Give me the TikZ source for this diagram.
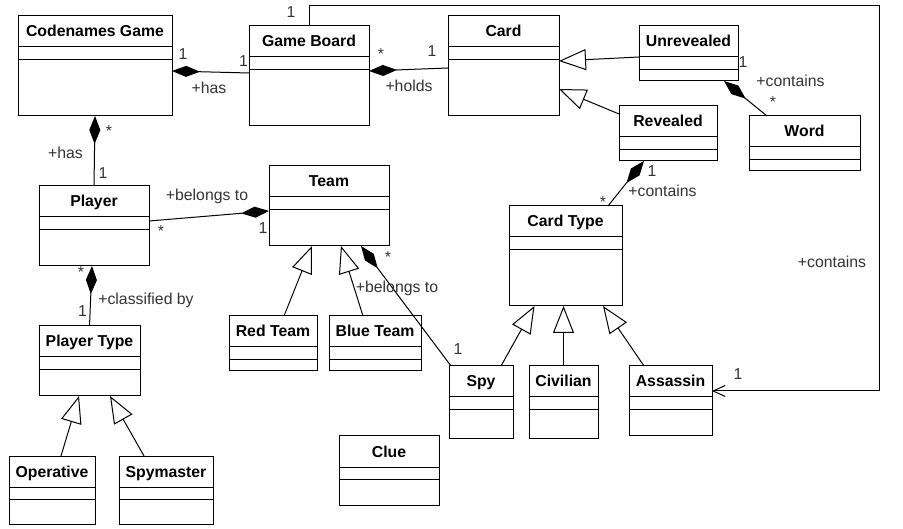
\documentclass[tikz,border=0pt]{standalone}
\usepackage{fontspec}
\setmainfont{Liberation Sans}
\usetikzlibrary{arrows.meta}

\begin{document}
\begin{tikzpicture}[x=1pt, y=-1pt, line width=1pt,
  clsname/.style={anchor=base, inner sep=0pt, yshift=-21pt, font=\fontsize{15.8}{19}\selectfont\bfseries},
  cls/.style={draw, rectangle, inner sep=0pt, outer sep=0pt, anchor=north west, label={[clsname]north:{#1}},
    path picture={\draw[line width=1pt] ([yshift=-31pt]path picture bounding box.north west) -- ([yshift=-31pt]path picture bounding box.north east)
      ([yshift=-43.5pt]path picture bounding box.north west) -- ([yshift=-43.5pt]path picture bounding box.north east);}},
  mult/.style={anchor=base, inner sep=0pt, text=black!80, font=\fontsize{15.8}{19}\selectfont},
  comp/.style={{Diamond[length=28pt,width=11pt]}-, every node/.style={mult}},
  gen/.style={-{Triangle[open,length=27pt,width=21pt]}},
  assoc/.style={-{Straight Barb[length=12pt,width=11pt]}, every node/.style={mult}}]

\useasboundingbox (0,0) rectangle (903,529);

\node[cls={Codenames Game}, minimum width=154pt, minimum height=100pt] (game) at (18,16) {};
\node[cls={Game Board}, minimum width=120pt, minimum height=100pt] (board) at (249,26) {};
\node[cls={Card}, minimum width=111pt, minimum height=100pt] (card) at (448,16) {};
\node[cls={Unrevealed}, minimum width=99pt, minimum height=55pt] (unrev) at (639,26) {};
\node[cls={Revealed}, minimum width=98pt, minimum height=55pt] (rev) at (619,106) {};
\node[cls={Word}, minimum width=111pt, minimum height=55pt] (word) at (749,116) {};
\node[cls={Card Type}, minimum width=113pt, minimum height=100pt] (ctype) at (509,206) {};
\node[cls={Player}, minimum width=110pt, minimum height=80pt] (player) at (39,186) {};
\node[cls={Team}, minimum width=120pt, minimum height=80pt] (team) at (269,166) {};
\node[cls={Player Type}, minimum width=101pt, minimum height=70pt] (ptype) at (39,326) {};
\node[cls={Operative}, minimum width=86pt, minimum height=68pt] (oper) at (9,456) {};
\node[cls={Spymaster}, minimum width=94pt, minimum height=68pt] (spym) at (119,456) {};
\node[cls={Red Team}, minimum width=88pt, minimum height=55pt] (red) at (229,316) {};
\node[cls={Blue Team}, minimum width=92pt, minimum height=55pt] (blue) at (329,316) {};
\node[cls={Clue}, minimum width=100pt, minimum height=69pt] (clue) at (339,436) {};
\node[cls={Spy}, minimum width=64pt, minimum height=73pt] (spy) at (449,366) {};
\node[cls={Civilian}, minimum width=69pt, minimum height=73pt] (civ) at (529,366) {};
\node[cls={Assassin}, minimum width=83pt, minimum height=70pt] (assn) at (629,366) {};

% compositions
\draw[comp] ([yshift=-5pt]game.east) -- ([yshift=3pt]board.west) node at (183,60) {1} node at (243.5,67) {1} node at (209,94) {+has};
\draw[comp] ([yshift=5pt]board.east) -- ([yshift=-2pt]card.west) node at (381,60) {*} node at (432,57) {1} node at (409,92) {+holds};
\draw[comp] (game.south) -- (player.north) node at (109,137) {*} node at (65.5,159) {+has} node at (103,179) {1};
\draw[comp] ([yshift=-5pt]team.west) -- ([yshift=5pt]player.east) node at (207,201) {+belongs to} node at (161,237) {*} node at (263,234) {1};
\draw[comp] ([xshift=-2pt]player.south) -- (ptype.north) node at (81,278) {*} node at (146,305) {+classified by} node at (82.5,317) {1};
\draw[comp] ([xshift=32pt]team.south) -- ([xshift=2pt]spy.north west) node at (388,263) {*} node at (397,293) {+belongs to} node at (458,355) {1};
\draw[comp] ([xshift=-14pt]unrev.south east) -- ([xshift=18pt]word.north west) node at (743,68) {1} node at (790.5,87) {+contains} node at (773,108) {*};
\draw[comp] ([xshift=-24pt]rev.south) -- ([xshift=42.5pt]ctype.north) node at (652,177) {1} node at (662.5,197) {+contains} node at (603,208) {*};

% generalisations
\draw[gen] ([xshift=11pt]red.north) -- ([xshift=-17pt]team.south);
\draw[gen] ([xshift=-12pt]blue.north) -- ([xshift=12pt]team.south);
\draw[gen] ([yshift=-3.5pt]unrev.west) -- ([yshift=5pt]card.east);
\draw[gen] ([yshift=-8pt]rev.north west) -- ([yshift=-23pt]card.east);
\draw[gen] ([xshift=20pt]spy.north) -- ([xshift=-31pt]ctype.south);
\draw[gen] (civ.north) -- (civ.north |- ctype.south);
\draw[gen] ([xshift=-26.5pt]assn.north) -- ([xshift=37.5pt]ctype.south);
\draw[gen] ([xshift=9pt]oper.north) -- ([xshift=-10.5pt]ptype.south);
\draw[gen] ([xshift=-22pt]spym.north) -- ([xshift=20.5pt]ptype.south);

% association
\coordinate (corner) at (879,6);
\draw[assoc] (board.north) |- (corner) |- ([yshift=10pt]assn.east) node at (291,18) {1} node at (832,268) {+contains} node at (738,380) {1};

\end{tikzpicture}
\end{document}
